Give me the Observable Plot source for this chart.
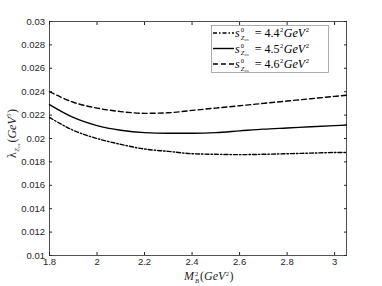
<!DOCTYPE html>
<html><head><meta charset="utf-8">
<script src="https://cdn.jsdelivr.net/npm/d3@7"></script>
<script src="https://cdn.jsdelivr.net/npm/@observablehq/plot@0.6"></script>
<style>body{margin:0;background:#fff}#c{position:relative;width:382px;height:286px}</style>
</head><body><div id="c"></div>
<script>
const xs = [1.8,1.9,2.0,2.1,2.2,2.3,2.4,2.5,2.6,2.7,2.8,2.9,3.0,3.05];
const s44 = [0.0218,0.0207,0.0200,0.0195,0.0191,0.0189,0.0187,0.01865,0.01862,0.01865,0.0187,0.01875,0.0188,0.0188];
const s45 = [0.0229,0.0218,0.0211,0.0207,0.0205,0.02045,0.02045,0.0205,0.02065,0.0208,0.0209,0.0210,0.0211,0.02115];
const s46 = [0.0240,0.0231,0.0226,0.0223,0.02215,0.0222,0.0224,0.0226,0.0228,0.0230,0.0232,0.0234,0.0236,0.0237];
const xTicks = [1.8,2,2.2,2.4,2.6,2.8,3];
const yTicks = [0.01,0.012,0.014,0.016,0.018,0.02,0.022,0.024,0.026,0.028,0.03];
const series = [
  {name:"4.4", vals:s44, dash:"4,2,1.5,2"},
  {name:"4.5", vals:s45, dash:null},
  {name:"4.6", vals:s46, dash:"5,3"}
];
const ink = "#262626";
const marks = [Plot.frame({stroke: ink, strokeWidth: 0.8})];
for (const s of series) {
  const d = xs.map((x,i)=>({x, y:s.vals[i]}));
  marks.push(Plot.line(d,{x:"x",y:"y",curve:"monotone-x",stroke:"#000",strokeWidth:1.4,strokeDasharray:s.dash}));
}
const fmt = d => String(d);
marks.push(Plot.axisX({ticks:xTicks, tickSize:-3, tickPadding:6, tickFormat:fmt, fontSize:9.5, stroke:ink, color:ink, label:null}));
marks.push(Plot.axisX({anchor:"top", ticks:xTicks, tickSize:-3, tickFormat:()=>"", stroke:ink, label:null}));
marks.push(Plot.axisY({ticks:yTicks, tickSize:-3, tickPadding:7.5, tickFormat:fmt, fontSize:9.5, stroke:ink, color:ink, label:null}));
marks.push(Plot.axisY({anchor:"right", ticks:yTicks, tickSize:-3, tickFormat:()=>"", stroke:ink, label:null}));
const plot = Plot.plot({
  width:382, height:286, marginLeft:49, marginRight:36, marginTop:21, marginBottom:31,
  style:{fontFamily:"Liberation Sans, Arial, sans-serif", background:"#fff"},
  x:{domain:[1.8,3.05]}, y:{domain:[0.01,0.03]},
  marks
});
document.getElementById("c").appendChild(plot);
const svg = d3.select(plot);
const serif = "Liberation Serif, Times New Roman, serif";
// flowing rich text: parts {s, fs, it, dy, stack, afterMax, gap}
function rich(g, x0, base, parts, fill){
  const t = g.append("text").attr("text-anchor","start").attr("font-family",serif).attr("fill",fill);
  let lastStart = x0, prevEnd = x0, maxEnd = x0;
  for (const p of parts) {
    const start = p.stack ? lastStart : (p.afterMax ? maxEnd : prevEnd) + (p.gap || 0);
    const ts = t.append("tspan").attr("x", start).attr("y", base + (p.dy || 0)).attr("font-size", p.fs)
      .attr("font-style", p.it ? "italic" : "normal").text(p.s);
    const w = ts.node().getComputedTextLength();
    lastStart = start; prevEnd = start + w; maxEnd = Math.max(maxEnd, prevEnd);
  }
  return t;
}
const B = 12, S = 6.5, SS = 5;
// x label
rich(svg, 184, 280, [
  {s:"M", fs:B, it:true},
  {s:"2", fs:S, dy:-4.5, gap:1},
  {s:"B", fs:S, it:true, dy:2.5, stack:true},
  {s:"(", fs:B, afterMax:true, gap:1},
  {s:"GeV", fs:B, it:true},
  {s:"2", fs:S, dy:-4.5, gap:0.5},
  {s:")", fs:B, gap:0.5}
], ink);
// y label (rotated)
const yg = svg.append("g").attr("transform","translate(16,158) rotate(-90)");
rich(yg, 0, 0, [
  {s:"λ", fs:B},
  {s:"Z", fs:S, it:true, dy:2.5, gap:0.5},
  {s:"cs", fs:SS, it:true, dy:3.5, gap:0.3},
  {s:"(", fs:B, gap:1},
  {s:"GeV", fs:B, it:true},
  {s:"5", fs:S, dy:-5, gap:0.5},
  {s:")", fs:B, gap:0.5}
], ink);
// legend
const lg = svg.append("g");
lg.append("rect").attr("x",211.5).attr("y",25.5).attr("width",117).attr("height",47)
  .attr("fill","#fff").attr("stroke","#999").attr("stroke-width",0.8);
series.forEach((s,i)=>{
  const cy = 33 + i*15.5;
  lg.append("line").attr("x1",213).attr("x2",234).attr("y1",cy).attr("y2",cy)
    .attr("stroke","#000").attr("stroke-width",1.4).attr("stroke-dasharray",s.dash);
  rich(lg, 235, cy+4, [
    {s:"s", fs:B, it:true},
    {s:"0", fs:S, dy:-5, gap:1},
    {s:"Z", fs:S, it:true, dy:2.5, stack:true},
    {s:"cs", fs:SS, it:true, dy:3.5, gap:0.3},
    {s:"= " + s.name, fs:B, afterMax:true, gap:6},
    {s:"2", fs:S, dy:-5, gap:0.5},
    {s:"GeV", fs:B, it:true, gap:0.5},
    {s:"2", fs:S, dy:-5, gap:0.5}
  ], "#000");
});
</script></body></html>
